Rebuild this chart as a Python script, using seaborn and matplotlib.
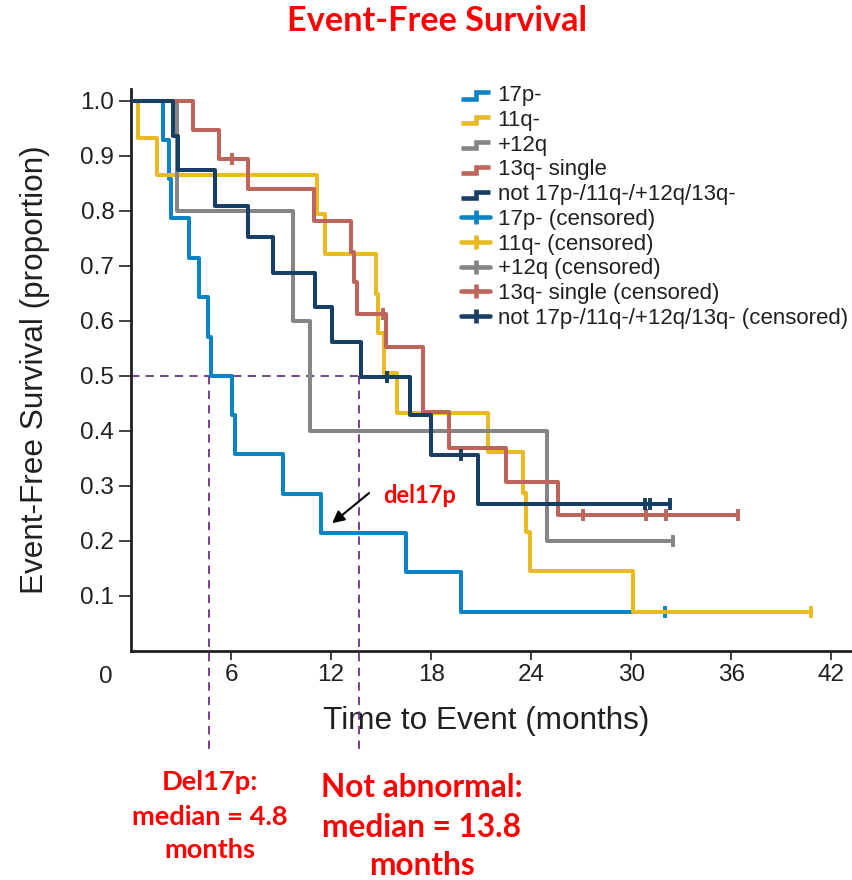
import numpy as np
import pandas as pd
import matplotlib
matplotlib.use("Agg")
import matplotlib.pyplot as plt
import seaborn as sns
from matplotlib.lines import Line2D
from matplotlib.legend_handler import HandlerBase, HandlerLine2D
from matplotlib import font_manager
from matplotlib.font_manager import FontProperties

# ---------------- data ----------------
groups = ["17p-", "11q-", "+12q", "13q- single", "not 17p-/11q-/+12q/13q-"]
group_colors = ["#0B84C6", "#E9BA22", "#858585", "#BD655B", "#173F66"]

t_17p = [1.94, 2.3, 2.38, 3.5, 4.1, 4.64, 4.78, 6.04, 6.24, 9.14, 11.38, 16.5, 19.8]
s_17p = [0.929, 0.857, 0.786, 0.714, 0.643, 0.571, 0.5, 0.429, 0.357, 0.286, 0.214, 0.143, 0.071]
c_17p = [32.0]

t_11q = [0.44, 1.58, 11.14, 11.64, 14.7, 14.84, 15.2, 15.94, 21.4, 23.5, 23.7, 23.9, 30.1]
s_11q = [0.932, 0.864, 0.794, 0.722, 0.649, 0.577, 0.505, 0.432, 0.362, 0.287, 0.217, 0.146, 0.071]
c_11q = [40.8]

t_12q = [2.74, 9.7, 10.74, 24.97]
s_12q = [0.8, 0.6, 0.4, 0.2]
c_12q = [32.5]

t_13q = [3.7, 5.3, 7.04, 11.0, 13.2, 13.4, 13.54, 15.3, 17.54, 19.1, 22.5, 25.6]
s_13q = [0.947, 0.893, 0.840, 0.782, 0.725, 0.670, 0.613, 0.552, 0.434, 0.368, 0.307, 0.247]
c_13q = [6.08, 15.14, 27.1, 30.9, 32.1, 36.4]

t_norm = [2.54, 2.84, 5.04, 7.04, 8.54, 11.04, 12.04, 13.8, 16.74, 17.98, 20.84]
s_norm = [0.936, 0.874, 0.809, 0.752, 0.687, 0.625, 0.561, 0.498, 0.428, 0.356, 0.267]
c_norm = [15.38, 19.8, 30.84, 31.14, 32.3]

x_ticks = [6, 12, 18, 24, 30, 36, 42]
y_ticks = [0.1, 0.2, 0.3, 0.4, 0.5, 0.6, 0.7, 0.8, 0.9, 1.0]
median_level = 0.5
median_del17p = 4.65
median_normal = 13.7

title_text = "Event-Free Survival"
xlabel_text = "Time to Event (months)"
ylabel_text = "Event-Free Survival (proportion)"

# ---------------- style ----------------
sns.set_style("white")
plt.rcParams["font.family"] = ["Liberation Sans", "DejaVu Sans"]
plt.rcParams["lines.scale_dashes"] = False
TXT = "#231F20"
RED = "#FF0000"
PURPLE = "#6E3080"

def has_font(name):
    try:
        font_manager.findfont(FontProperties(family=name), fallback_to_default=False)
        return True
    except Exception:
        return False

if has_font("Liberation Sans Narrow"):
    label_font = dict(family=["Liberation Sans Narrow", "Liberation Sans"], size=27.5)
else:
    label_font = dict(family=["Liberation Sans", "DejaVu Sans"], size=22.7)
red_family = ["Lato", "DejaVu Sans"]

fig = plt.figure(figsize=(8.53, 8.80), dpi=100)
W, H = 853, 880
ax = fig.add_axes([131 / W, 229 / H, 722 / W, 562 / H])

series = [
    (t_17p, s_17p, c_17p),
    (t_11q, s_11q, c_11q),
    (t_12q, s_12q, c_12q),
    (t_13q, s_13q, c_13q),
    (t_norm, s_norm, c_norm),
]
zorders = [2, 3, 4, 5, 6]
LW = 2.9

def surv_at(t, times, surv):
    idx = np.searchsorted(times, t, side="right")
    return 1.0 if idx == 0 else surv[idx - 1]

for g, col, (tt, ss, cc), z in zip(groups, group_colors, series, zorders):
    xs = [0.0] + list(tt) + [max(cc)]
    ys = [1.0] + list(ss) + [ss[-1]]
    df = pd.DataFrame({"time": xs, "surv": ys})
    sns.lineplot(data=df, x="time", y="surv", color=col, lw=LW, drawstyle="steps-post",
                 estimator=None, sort=False, legend=False, ax=ax, zorder=z)
    cdf = pd.DataFrame({"time": cc, "surv": [surv_at(c, tt, ss) for c in cc]})
    sns.scatterplot(data=cdf, x="time", y="surv", marker="|", s=85, linewidth=2.8,
                    color=col, legend=False, ax=ax, zorder=z + 0.5)

# median guide lines
dash_kw = dict(color=PURPLE, lw=1.3, dashes=(6, 4.5), zorder=1, clip_on=False)
ax.plot([0, median_normal], [median_level, median_level], **dash_kw)
ax.plot([median_del17p, median_del17p], [median_level, -0.183], **dash_kw)
ax.plot([median_normal, median_normal], [median_level, -0.183], **dash_kw)

# arrow + del17p label
ax.annotate("", xy=(12.06, 0.232), xytext=(14.28, 0.287),
            arrowprops=dict(arrowstyle="-|>", color="black", lw=1.5, mutation_scale=18,
                            shrinkA=0, shrinkB=0))
ax.text(15.1, 0.283, "del17p", color=RED, fontsize=17, fontweight="bold",
        family=red_family, ha="left", va="center")

# axes
ax.set_xlim(0, 43.3)
ax.set_ylim(0, 1.021)
ax.set_xticks(x_ticks)
ax.set_xticklabels([str(v) for v in x_ticks])
ax.set_yticks(y_ticks)
ax.set_yticklabels([f"{v:.1f}" for v in y_ticks])
for sp in ["top", "right"]:
    ax.spines[sp].set_visible(False)
for sp in ["left", "bottom"]:
    ax.spines[sp].set_linewidth(2.0)
    ax.spines[sp].set_color(TXT)
ax.tick_params(axis="x", direction="out", length=6.5, width=1.2, color=TXT,
               labelsize=17.5, labelcolor=TXT, pad=3, bottom=True)
ax.tick_params(axis="y", direction="out", length=9, width=1.2, color=TXT,
               labelsize=17.5, labelcolor=TXT, pad=3, left=True)
ax.grid(False)
ax.set_xlabel(xlabel_text, color=TXT, **label_font)
ax.set_ylabel(ylabel_text, color=TXT, **label_font)
ax.xaxis.set_label_coords((486 - 131) / 722, (651 - 706) / 562)
ax.yaxis.set_label_coords((50 - 131) / 722, 0.5)

# the "0" label to the left of the axis origin
fig.text(105.5 / W, 1 - 677 / H, "0", fontsize=17.5, color=TXT, ha="center", va="center")

# legend
class StepHandler(HandlerBase):
    def create_artists(self, legend, orig_handle, xdescent, ydescent, width, height,
                       fontsize, trans):
        x0, y0 = -xdescent, -ydescent
        xs = [x0, x0 + width * 0.5, x0 + width * 0.5, x0 + width]
        ys = [y0 + height * 0.15, y0 + height * 0.15, y0 + height * 0.55, y0 + height * 0.55]
        ln = Line2D(xs, ys, color=orig_handle.get_color(), lw=orig_handle.get_linewidth(),
                    solid_joinstyle="miter", solid_capstyle="butt")
        ln.set_transform(trans)
        return [ln]

step_handles = [Line2D([], [], color=c, lw=3.3) for c in group_colors]
cens_handles = [Line2D([], [], color=c, lw=3.3, marker="|", markersize=10, mew=3.4)
                for c in group_colors]
handles = step_handles + cens_handles
labels = groups + [g + " (censored)" for g in groups]
hmap = {h: StepHandler() for h in step_handles}
hmap.update({h: HandlerLine2D(numpoints=1) for h in cens_handles})
leg = fig.legend(handles, labels, handler_map=hmap, loc="upper left",
                 bbox_to_anchor=(461 / W, 1 - 85 / H), bbox_transform=fig.transFigure,
                 frameon=False, fontsize=16.0, borderpad=0, borderaxespad=0,
                 labelspacing=0.17, handlelength=1.32, handletextpad=0.33)
for t in leg.get_texts():
    t.set_color(TXT)

# title and bottom annotations
fig.text(437 / W, 1 - 21 / H, title_text, color=RED, fontsize=24.7, fontweight="bold",
         family=red_family, ha="center", va="center")
for txt, y in [("Del17p:", 782), ("median = 4.8", 817), ("months", 850)]:
    fig.text(210 / W, 1 - y / H, txt, color=RED, fontsize=19.6, fontweight="bold",
             family=red_family, ha="center", va="center")
for txt, y in [("Not abnormal:", 787), ("median = 13.8", 827), ("months", 865)]:
    fig.text(422 / W, 1 - y / H, txt, color=RED, fontsize=22.8, fontweight="bold",
             family=red_family, ha="center", va="center")

fig.savefig("out.png", dpi=100, facecolor="white")
